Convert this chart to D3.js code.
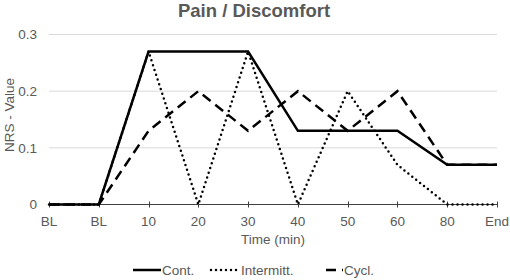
<!DOCTYPE html>
<html>
<head>
<meta charset="utf-8">
<script src="https://cdn.jsdelivr.net/npm/d3@7"></script>
<style>
  body { margin: 0; background: #fff; }
  svg { font-family: "Liberation Sans", Arial, sans-serif; }
</style>
</head>
<body>
<div id="chart"></div>
<script>
const categories = ["BL", "BL ", "10", "20", "30", "40", "50", "60", "80", "End"];
const contValues = [0, 0, 0.27, 0.27, 0.27, 0.13, 0.13, 0.13, 0.07, 0.07];
const intermittValues = [0, 0, 0.27, 0, 0.27, 0, 0.2, 0.07, 0, 0];
const cyclValues = [0, 0, 0.13, 0.2, 0.13, 0.2, 0.13, 0.2, 0.07, 0.07];
const yTicks = [0, 0.1, 0.2, 0.3];

const series = [
    {name: "Cont.", values: contValues, dash: null, cap: "butt"},
    {name: "Intermitt.", values: intermittValues, dash: "0 5", cap: "round"},
    {name: "Cycl.", values: cyclValues, dash: "10 6", cap: "butt"}
];

const width = 510, height = 280;
const margin = {top: 34, right: 13, bottom: 76, left: 49};
const textColor = "#595959";
const fontSize = "13.5px";

const svg = d3.select("#chart").append("svg")
    .attr("width", width)
    .attr("height", height);

const x = d3.scalePoint()
    .domain(categories)
    .range([margin.left, width - margin.right]);

const y = d3.scaleLinear()
    .domain([0, 0.3])
    .range([height - margin.bottom + 0.5, margin.top + 0.5]);

// gridlines
svg.append("g")
    .selectAll("line")
    .data(yTicks.slice(1))
    .join("line")
    .attr("x1", margin.left)
    .attr("x2", width - margin.right)
    .attr("y1", d => y(d))
    .attr("y2", d => y(d))
    .attr("stroke", "#d9d9d9")
    .attr("stroke-width", 1);

// y labels
svg.append("g")
    .selectAll("text")
    .data(yTicks)
    .join("text")
    .attr("x", 37)
    .attr("y", d => y(d))
    .attr("dy", "0.35em")
    .attr("text-anchor", "end")
    .style("font-size", fontSize)
    .style("fill", textColor)
    .text(d => d === 0 ? "0" : d.toFixed(1));

// x axis
const xAxis = svg.append("g");
xAxis.append("line")
    .attr("x1", margin.left)
    .attr("x2", width - margin.right)
    .attr("y1", y(0))
    .attr("y2", y(0))
    .attr("stroke", "#404040")
    .attr("stroke-width", 1);

xAxis.selectAll(".tick")
    .data(categories)
    .join("line")
    .attr("class", "tick")
    .attr("x1", d => Math.round(x(d)) + 0.5)
    .attr("x2", d => Math.round(x(d)) + 0.5)
    .attr("y1", y(0) - 3)
    .attr("y2", y(0) + 3)
    .attr("stroke", "#404040");

xAxis.selectAll("text")
    .data(categories)
    .join("text")
    .attr("x", d => x(d))
    .attr("y", 225.5)
    .attr("text-anchor", "middle")
    .style("font-size", fontSize)
    .style("fill", textColor)
    .text(d => d.trim());

// lines
const line = d3.line()
    .x((d, i) => x(categories[i]))
    .y(d => y(d));

svg.append("g")
    .selectAll("path")
    .data(series)
    .join("path")
    .attr("d", d => line(d.values))
    .attr("fill", "none")
    .attr("stroke", "#000")
    .attr("stroke-width", 2.5)
    .attr("stroke-linejoin", "miter")
    .attr("stroke-linecap", d => d.cap)
    .attr("stroke-dasharray", d => d.dash);

// title
svg.append("text")
    .attr("x", 254)
    .attr("y", 17)
    .attr("text-anchor", "middle")
    .style("font-size", "18.5px")
    .style("font-weight", "bold")
    .style("fill", textColor)
    .text("Pain / Discomfort");

// axis titles
svg.append("text")
    .attr("x", 273)
    .attr("y", 244)
    .attr("text-anchor", "middle")
    .style("font-size", fontSize)
    .style("fill", textColor)
    .text("Time (min)");

svg.append("text")
    .attr("transform", "translate(14,115) rotate(-90)")
    .attr("text-anchor", "middle")
    .style("font-size", fontSize)
    .style("fill", textColor)
    .text("NRS - Value");

// legend
const legendX = [133, 211, 326];
const legendLen = [28, 29, 17];
const legend = svg.append("g")
    .selectAll("g")
    .data(series)
    .join("g")
    .attr("transform", (d, i) => `translate(${legendX[i]},270)`);

legend.append("line")
    .attr("x1", 0)
    .attr("x2", (d, i) => legendLen[i])
    .attr("y1", 0)
    .attr("y2", 0)
    .attr("stroke", "#000")
    .attr("stroke-width", 2.5)
    .attr("stroke-linecap", d => d.cap)
    .attr("stroke-dasharray", d => d.dash);

legend.append("text")
    .attr("x", (d, i) => legendLen[i] + 1)
    .attr("y", 0)
    .attr("dy", "0.35em")
    .style("font-size", fontSize)
    .style("fill", textColor)
    .text(d => d.name);
</script>
</body>
</html>
